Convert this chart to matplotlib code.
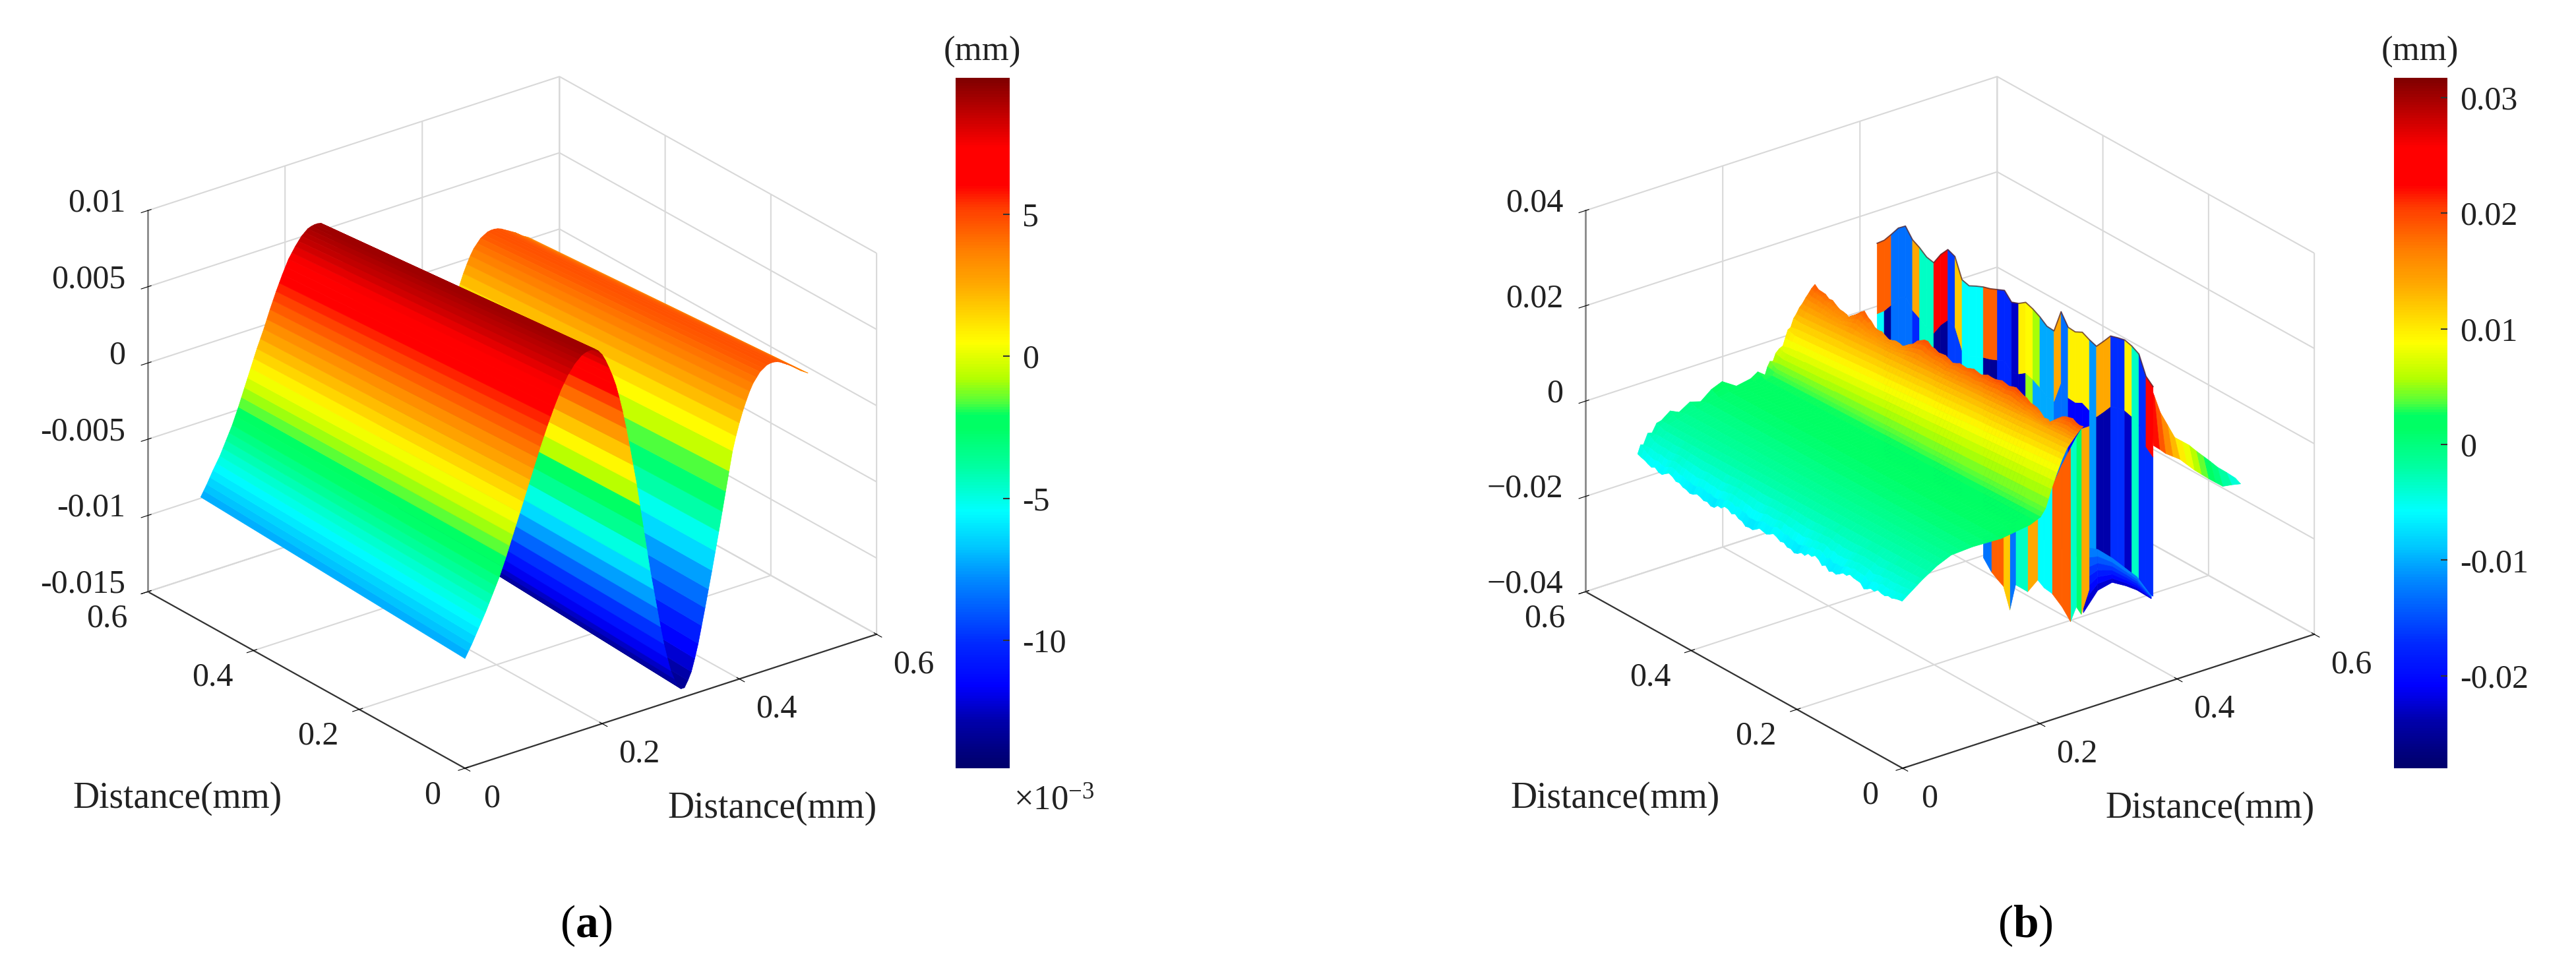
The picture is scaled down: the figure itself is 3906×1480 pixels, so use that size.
import numpy as np
import matplotlib
matplotlib.use("Agg")
import matplotlib.pyplot as plt
from matplotlib import cm, colors
from mpl_toolkits.mplot3d import proj3d

W, H = 3906, 1480
SERIF = "Liberation Serif"
plt.rcParams.update({
    "font.family": SERIF, "mathtext.fontset": "custom", "mathtext.rm": SERIF,
    "mathtext.bf": SERIF + ":bold", "mathtext.it": SERIF + ":italic",
    "grid.color": "#d8d8d8", "grid.linewidth": 1.5,
})

# ---------- colour scale ----------
cmap_stops = [0.0, .005, .066, .118, .179, .218, .275, .321, .372, .437, .492, .511, .53,
              .565, .617, .652, .70, .75, .813, .846, .90, 1.0]
cmap_rgb = [(0, 0, 110), (0, 0, 110), (0, 0, 170), (0, 0, 255), (0, 40, 255), (0, 80, 255),
            (0, 140, 255), (0, 200, 255), (0, 255, 255), (0, 255, 160), (0, 255, 100), (0, 255, 100),
            (80, 255, 60), (180, 255, 0), (255, 255, 0), (255, 220, 0), (255, 170, 0),
            (255, 128, 0), (255, 60, 0), (255, 0, 0), (255, 0, 0), (128, 0, 0)]

# ---------- axes labels ----------
xy_ticks = [0, 0.2, 0.4, 0.6]
xy_ticklabels = ["0", "0.2", "0.4", "0.6"]
z_ticks_a = [-0.015, -0.01, -0.005, 0, 0.005, 0.01]
z_labels_a = ["-0.015", "-0.01", "-0.005", "0", "0.005", "0.01"]
z_ticks_b = [-0.04, -0.02, 0, 0.02, 0.04]
z_labels_b = ["\u22120.04", "\u22120.02", "0", "0.02", "0.04"]
cbar_ticks_a = [-0.010, -0.005, 0, 0.005]
cbar_labels_a = ["-10", "-5", "0", "5"]
cbar_ticks_b = [-0.02, -0.01, 0, 0.01, 0.02, 0.03]
cbar_labels_b = ["-0.02", "-0.01", "0", "0.01", "0.02", "0.03"]
range_a = (-0.0145, 0.0098)
range_b = (-0.0280, 0.0317)

# ---------- panel (a): profile across the grooves ----------
a_x_front = [i / 200 for i in range(101)]
a_z_front = [-7.8, -7.4, -7.0, -6.55, -6.1, -5.65, -5.2, -4.7, -4.2, -3.7,
             -3.2, -2.6, -2.0, -1.35, -.7, -.05, .6, 1.25, 1.9, 2.55,
             3.2, 3.85, 4.5, 5.1, 5.7, 6.25, 6.8, 7.3, 7.8, 8.2,
             8.6, 8.9, 9.2, 9.4, 9.6, 9.7, 9.75, 9.75, 9.7, 9.5,
             9.2, 8.75, 8.2, 7.6, 6.9, 6.0, 5.0, 3.85, 2.6, 1.3,
             0, -1.5, -3.0, -4.5, -6.0, -7.3, -8.6, -9.9, -11.1, -12.1,
             -13.0, -13.6, -14.1, -14.4, -14.4, -14.0, -13.5, -12.7, -11.8, -10.7,
             -9.6, -8.45, -7.3, -6.1, -4.9, -3.65, -2.4, -1.15, .1, 1.0,
             1.8, 2.5, 3.1, 3.65, 4.1, 4.4, 4.7, 4.85, 5.0, 5.05,
             5.05, 5.0, 4.9, 4.75, 4.6, 4.45, 4.3, 4.1, 3.9, 3.75, 3.6]
a_back_shift = ([0, .0005, .001, .0015, .002, .002, .002, .0025, .003, .0035,
                 .004, .0045, .005, .0055, .006, .0065, .007, .0075, .008, .008,
                 .008, .0085, .009, .0095, .010, .0105, .011, .0115, .012, .012,
                 .012, .0125, .013, .0135, .014, .014, .014, .0145, .015, .015,
                 .015, .0155, .016, .016, .016, .016, .016, .0155, .015, .015, .015]
                + [.015] * 14
                + [.0155, .016, .0165, .017, .0175, .018, .0185, .019, .0195, .020, .0205, .021, .0215, .022]
                + [.022] * 22)
a_back_scale = 0.88
a_y_extent = [0.5, 0.0]

# ---------- panel (b): rising flank, read strip by strip ----------
b_z = [-.005, -.0045, -.004, -.0035, -.003, -.0025, -.002, -.0015, -.001, -.0005, 0, .0005,
       .001, .0015, .002, .0025, .003, .0035, .004, .005, .006, .007, .008, .009,
       .010, .011, .012, .013, .014, .015, .016, .017, .018, .0185, .019]
b_x_back = [0, .0077, .0153, .0247, .0341, .0433, .0526, .0657, .0789, .0940, .1091, .1241,
            .1392, .1550, .1709, .1802, .1895, .1936, .1977, .2004, .2030, .2076, .2122, .2163,
            .2204, .2257, .2311, .2351, .2392, .2430, .2469, .2495, .2521, .2533, .2545]
b_y_back = [.5014, .5058, .5103, .5143, .5184, .5216, .5249, .5251, .5253, .5245, .5238, .5230,
            .5222, .5158, .5094, .5079, .5064, .5070, .5076, .5056, .5036, .5028, .5021, .5027,
            .5033, .5048, .5064, .5062, .5060, .5049, .5038, .5018, .4998, .4980, .4962]
b_x_front = [0, .0092, .0185, .0288, .0392, .0530, .0668, .0783, .0898, .1026, .1155, .1315,
             .1476, .1680, .1884, .1960, .2037, .2091, .2146, .2249, .2352, .2437, .2522, .2576,
             .2631, .2667, .2704, .2721, .2739, .2719, .2700, .2688, .2676, .2671, .2666]
b_y_front = [.001, .0037, .0064, .0097, .0130, .0174, .0218, .0233, .0248, .0211, .0174, .0112,
             .0050, .0044, .0039, .0036, .0034, .0057, .0081, .0161, .0241, .0297, .0353, .0376,
             .0400, .0400, .0401, .0369, .0337, .0277, .0218, .0162, .0106, .0073, .0040]
# roughness (x 1e-3 mm), back to front
b_rough_crest = [0, -.7, -.8, -.9, -1.5, -1.4, -2, -2.5, -2.6, -2.8,
                 -3.4, -2.2, -1.5, -.7, -.1, -1.0, -1.5, -2.4, -2.6, -2.5,
                 -3, -3.4, -3.2, -2.9, -3, -3.3, -2.9, -2.0, -1.5, -.5,
                 0, .5, .6, -.1, -.2, -.6, -.5, -.4, -.8, -1.2,
                 -.9, -.5, -.6, -.7, -.4, -.1, -.3, -.5, -.2, .2,
                 .1, .1, .3, .6, .4, .2, .5, .7, .3, -.1,
                 -.3, -.9, -1, -1.2, -1.8, -2.6, -2.4, -3.2, -2, -1.0,
                 -.3, .1, .3, .5, 0, -.2, 0]
b_rough_low = [0, -.3, -.5, -.9, -1.2, -.8, -1.4, -1.5, -.9, -.4,
               -.7, -1.3, -1.2, -1.7, -1.8, -2.2, -2.0, -1.5, -1.7, -2.1,
               -1.9, -2.4, -2.3, -1.5, -1.6, -.9, -1.0, -1.6, -1.2, -1.8,
               -1.9, -2.6, -2.4, -2.5, -2.0, -1.4, -1.6, -1.8, -1.4, -.9,
               -1.2, -1.7, -1.5, -2.1, -2, -2.5, -2.2, -1.6, -1.8, -1.0,
               -1.2, -.6, -1.0, -1.9, -1.4, -2.3, -1.9, -2.1, -1.6, -1.0,
               -1.1, -.5, -.8, -.9, -1.0, -1.9, -1.5, -1.0, -1.2, -.5,
               -.8, -.9, -.5, -.6, -.3, -.1, 0]
b_weight_crest = [0] * 29 + [.15, .3, .5, .7, .85, 1]
b_weight_low = [1, .75, .5, .3, .15] + [0] * 30
# jaggedness of the back edge, strip by strip (x 1e-3 mm)
b_back_edge = [0, .8, -.3, .9, -.2, .7, .1, 1.0, -.4, .6, -.5, .9, 1.4, -.4, .3, .9, -.6, .4,
               .8, -.2, .5, .3, -.3, .2, .6, -.2, .3, .1, .2, 0, .1, 0, 0, 0, 0]

# phase-jump wall
wall_x_ends = [.348, .365]
wall_y_ends = [.5, 0.0]
wall_top = [.0230, .0244, .0264, .0285, .0297, .0276, .0267, .0255, .0251, .0276,
            .0294, .0287, .0246, .0241, .0248, .0254, .0258, .0264, .0270, .0253,
            .0258, .0268, .0262, .0253, .0241, .0239, .0287, .0262, .0260, .0267,
            .0259, .0253, .0271, .0290, .0294, .0297, .0292, .0283, .0244, .0230]
wall_drop = 0.0148
wall_bottom = -0.021
wall_upper = [.0186, .0186, -.0131, -.0131, -.0131, .0138, -.0035, -.0035, .0239, .0239,
              -.016, .012, -.0058, -.0058, -.0058, .0186, .0186, -.0173, -.0173, -.023,
              .0096, .009, .0054, -.0101, -.0101, .0138, -.0131, .0096, .0096, .0096,
              -.011, .0138, .0138, -.017, -.017, .0096, -.0035, -.017, .0239]
wall_lower = [-.0058, -.025, -.0131, -.0131, -.0131, -.0173, -.0035, -.0035, -.025, -.025,
              -.016, -.016, -.0058, -.0058, -.0058, -.025, -.025, -.0173, -.0173, -.023,
              -.023, .005, -.0101, -.0101, -.0101, -.0131, -.0131, -.021, -.021, -.021,
              -.011, -.024, -.024, -.017, -.017, -.023, -.0035, -.017, -.017]

# tail beyond the wall
tail_x = [.3656, .3745, .3833, .3938, .4042, .4146, .4250, .4354, .4458, .4562, .4667, .4797, .4927]
tail_low = [.0106, .0094, .0081, .0070, .0059, .0043, .0027, .0013, -.0001, -.0014, -.0027, -.0030, -.0034]
tail_high = [.0238, .0200, .0161, .0130, .0099, .0086, .0073, .0056, .0040, .0024, .0007, -.0010, -.0028]
tail_shade = [.022, .019, .016, .013, .010, .008, .006, .004, .002, 0, -.002, -.004]

# trough floor seen at the front end
trough_x = [.2634, .2844, .3054, .3258, .3414, .3624]
trough_top = [-.0059, -.0074, -.0102, -.0134, -.0158, -.0208]
trough_bot = [-.0197, -.0160, -.0153, -.0170, -.0186, -.0214]
trough_shade = [-.0125, -.0145, -.0165, -.0185, -.0205, -.0225]

# front skirt under the flank
skirt_x = [.1177, .1292, .1385, .1469, .1563, .1646, .1823, .1969, .2063, .2177, .2323, .2448, .2531, .2604, .2719]
skirt_bot = [-.0013, -.0048, -.0069, -.0087, -.0141, -.0092, -.0115, -.0097, -.0118, -.0135, -.0170, -.0207, -.0180, -.0199, -.0152]
skirt_top = [.0033, .0027, .0028, .0030, .0037, .0040, .0049, .0053, .0060, .0089, .0128, .0157, .0176, .0190, .0190]
skirt_val = [-.013, .0186, .0186, .012, -.013, -.0035, .0138, -.0058, -.0058, .0186, .0186, -.0035, .001, .0138]

# ---------- layout helpers ----------
fig = plt.figure(figsize=(W / 100, H / 100), dpi=100, facecolor="white")
scale_cmap = colors.LinearSegmentedColormap.from_list(
    "surface", [(s, tuple(c / 255 for c in rgb)) for s, rgb in zip(cmap_stops, cmap_rgb)], N=256)
TXT = "#222222"


def fx(x):
    return x / W


def fy(y):
    return 1 - y / H


def project(ax, x, y, z):
    M = ax.get_proj()
    u, v, _ = proj3d.proj_transform(np.array([x], float), np.array([y], float), np.array([z], float), M)
    return ax.transData.transform((u[0], v[0]))


def make_axes(zlim, zticks, zlabels, dx):
    ax = fig.add_axes([0, 0, 1000 / W, 1000 / H], projection="3d")
    ax.set_proj_type("ortho")
    ax.view_init(elev=25.2, azim=-127.4)
    ax.set_box_aspect((786, 792, 639))
    ax.set_xlim(0, 0.6)
    ax.set_ylim(0, 0.6)
    ax.set_zlim(*zlim)
    ax.computed_zorder = False
    ax.patch.set_alpha(0)
    pl = project(ax, 0, 0.6, zlim[0])
    pr = project(ax, 0.6, 0, zlim[0])
    S = 1000 * 1105 / (pr[0] - pl[0])
    ax.set_position([0, 0, S / W, S / H])
    pf = project(ax, 0, 0, zlim[0])
    ox = 705 + dx - pf[0]
    oy = (H - 1165) - pf[1]
    ax.set_position([ox / W, oy / H, S / W, S / H])
    for a in (ax.xaxis, ax.yaxis, ax.zaxis):
        a.set_pane_color((1, 1, 1, 0))
        a.pane.set_edgecolor((1, 1, 1, 0))
    ax.set_xticks(xy_ticks, [""] * len(xy_ticks))
    ax.set_yticks(xy_ticks, [""] * len(xy_ticks))
    ax.set_zticks(zticks, [""] * len(zticks))
    ax.xaxis.line.set_color("#333333")
    ax.yaxis.line.set_color("#333333")
    ax.zaxis.line.set_color("#8a8a8a")
    ax.xaxis.line.set_linewidth(1.6)
    ax.yaxis.line.set_linewidth(1.6)
    ax.zaxis.line.set_linewidth(2)
    ax.zaxis.set_ticks_position("upper")
    # tick labels follow the axis scale, with an offset in pixels
    for t, lab in zip(xy_ticks, xy_ticklabels):
        p = project(ax, t, 0, zlim[0])
        off = (41, 46) if t == 0 else (56, 46)
        fig.text((p[0] + off[0]) / W, (p[1] - off[1]) / H, lab, fontsize=36, ha="center", va="center", color=TXT)
        p = project(ax, 0, t, zlim[0])
        off = (-49, 41) if t == 0 else (-62, 41)
        fig.text((p[0] + off[0]) / W, (p[1] - off[1]) / H, lab, fontsize=36, ha="center", va="center", color=TXT)
    for t, lab in zip(zticks, zlabels):
        p = project(ax, 0, 0.6, t)
        fig.text((p[0] - 34) / W, (p[1] + 11) / H, lab, fontsize=36, ha="right", va="center", color=TXT)
    return ax


def surf(ax, X, Y, Z, values, norm, zorder):
    cols = scale_cmap(norm(values))
    ax.plot_surface(X, Y, Z, facecolors=cols, rstride=1, cstride=1, shade=False,
                    linewidth=0.5, antialiased=True, zorder=zorder)


def colorbar(x0, x1, rng, ticks, labels):
    norm = colors.Normalize(*rng)
    cax = fig.add_axes([fx(x0), fy(1165), (x1 - x0) / W, (1165 - 118) / H])
    cb = fig.colorbar(cm.ScalarMappable(norm=norm, cmap=scale_cmap), cax=cax)
    cb.outline.set_visible(False)
    cb.set_ticks(ticks, labels=labels)
    cax.tick_params(direction="in", length=7, width=1.5, color="#333333", labelsize=36, pad=14,
                    labelcolor=TXT)
    return norm


# ---------- panel (a) ----------
norm_a = colorbar(1449, 1531, range_a, cbar_ticks_a, cbar_labels_a)
ax_a = make_axes((-0.015, 0.01), z_ticks_a, z_labels_a, 0)
xf = np.array(a_x_front)
zf = np.array(a_z_front) * 1e-3
Xa = np.vstack([xf - np.array(a_back_shift), xf])
Ya = np.vstack([np.full_like(xf, a_y_extent[0]), np.full_like(xf, a_y_extent[1])])
Za = np.vstack([zf * a_back_scale, zf])
surf(ax_a, Xa, Ya, Za, (Za[:-1, :-1] + Za[:-1, 1:] + Za[1:, :-1] + Za[1:, 1:]) / 4, norm_a, 5)

# ---------- panel (b) ----------
norm_b = colorbar(3630, 3711, range_b, cbar_ticks_b, cbar_labels_b)
ax_b = make_axes((-0.04, 0.04), z_ticks_b, z_labels_b, 2180)

# tail
tx = np.array(tail_x)
surf(ax_b, np.vstack([tx, tx]), np.vstack([np.zeros_like(tx), np.full_like(tx, .01)]),
     np.vstack([tail_low, tail_high]), np.array([tail_shade]), norm_b, 1)

# wall
ws = np.linspace(0, 1, len(wall_top))
wx = wall_x_ends[0] + ws * (wall_x_ends[1] - wall_x_ends[0])
wy = wall_y_ends[0] + ws * (wall_y_ends[1] - wall_y_ends[0])
wt = np.array(wall_top)
Xw = np.vstack([wx, wx, wx])
Yw = np.vstack([wy, wy, wy])
Zw = np.vstack([wt, wt - wall_drop, np.full_like(wt, wall_bottom)])
surf(ax_b, Xw, Yw, Zw, np.vstack([wall_upper, wall_lower]), norm_b, 2)
ax_b.plot(wx, wy, wt, color="#5a2a30", linewidth=1.4, alpha=0.75, zorder=2.5)

# trough
tt = np.array(trough_top)
tb = np.array(trough_bot)
rows = np.linspace(0, 1, len(trough_shade) + 1)[:, None]
Zt = tt + rows * (tb - tt)
Xt = np.tile(trough_x, (len(rows), 1))
surf(ax_b, Xt, np.zeros_like(Xt), Zt,
     np.tile(np.array(trough_shade)[:, None], (1, len(trough_x) - 1)), norm_b, 3)

# skirt
sx = np.array(skirt_x)
surf(ax_b, np.vstack([sx, sx]), np.zeros((2, len(sx))), np.vstack([skirt_top, skirt_bot]),
     np.array([skirt_val]), norm_b, 4)

# flank
t = np.linspace(0, 1, len(b_rough_crest))[:, None]
xb, yb, xf2, yf2, zb = map(np.array, (b_x_back, b_y_back, b_x_front, b_y_front, b_z))
Xr = xb + t * (xf2 - xb)
Yr = yb + t * (yf2 - yb)
Zr = (zb + np.outer(np.array(b_rough_crest) * 1e-3, b_weight_crest)
      + np.outer(np.array(b_rough_low) * 1e-3, b_weight_low))
Zr[0] += np.array(b_back_edge) * 1e-3
Zr[1] += np.array(b_back_edge) * 0.5e-3
surf(ax_b, Xr, Yr, Zr, (Zr[:-1, :-1] + Zr[:-1, 1:] + Zr[1:, :-1] + Zr[1:, 1:]) / 4, norm_b, 5)

# ---------- text ----------
for dx in (0, 2180):
    fig.text(fx(269 + dx), fy(1211), "Distance(mm)", fontsize=40, ha="center", va="center", color=TXT)
    fig.text(fx(1171 + dx), fy(1226), "Distance(mm)", fontsize=40, ha="center", va="center", color=TXT)
    fig.text(fx(1489 + dx), fy(79), "(mm)", fontsize=38, ha="center", va="center", color=TXT)
fig.text(fx(1598), fy(1215), r"$\times$10$^{-3}$", fontsize=38, ha="center", va="center", color=TXT)
fig.text(fx(889), fy(1404), r"($\mathbf{a}$)", fontsize=50, ha="center", va="center", color="black")
fig.text(fx(3071), fy(1404), r"($\mathbf{b}$)", fontsize=50, ha="center", va="center", color="black")

fig.savefig("out.png", dpi=100, facecolor="white")
